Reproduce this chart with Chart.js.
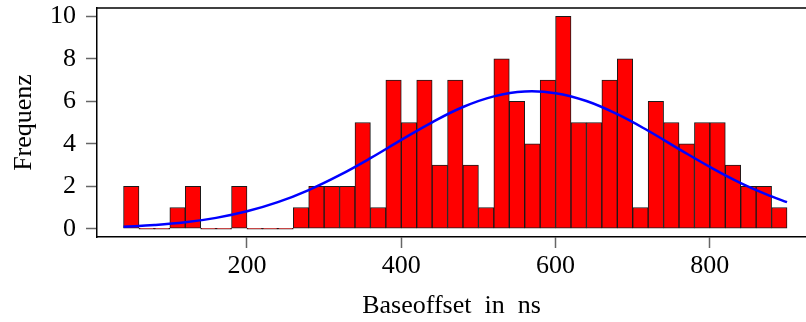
<!DOCTYPE html>
<html>
<head>
<meta charset="utf-8">
<script src="https://cdn.jsdelivr.net/npm/chart.js@4"></script>
<style>
  html, body { margin: 0; padding: 0; background: #fff; }
  #wrap { width: 806px; height: 322px; }
</style>
</head>
<body>
<div id="wrap"><canvas id="hist"></canvas></div>
<script>
// Histogramm: Klassenbreite 20 ns, ab 40 ns
const binStart = 40;
const binWidth = 20;
const counts = [2, 0, 0, 1, 2, 0, 0, 2, 0, 0, 0, 1, 2, 2, 2, 5, 1, 7, 5, 7, 3, 7,
  3, 1, 8, 6, 4, 7, 10, 5, 5, 7, 8, 1, 6, 5, 4, 5, 5, 3, 2, 2, 1];

// angepasste Normalverteilung
const curveX = [40, 80, 120, 160, 200, 240, 280, 320, 360, 400, 440, 480, 520,
  560, 600, 640, 680, 720, 760, 800, 840, 880, 900];
const curveY = [0.09, 0.17, 0.30, 0.51, 0.82, 1.25, 1.82, 2.52, 3.32, 4.18, 5.01,
  5.73, 6.23, 6.46, 6.38, 6.01, 5.39, 4.61, 3.75, 2.91, 2.15, 1.52, 1.25];

const xTicks = [200, 400, 600, 800];
const yTicks = [0, 2, 4, 6, 8, 10];

const binCenters = counts.map((_, i) => binStart + binWidth * (i + 0.5));

const font = { family: "'Liberation Serif', 'Times New Roman', serif", size: 26 };

const framePlugin = {
  id: 'frame',
  afterDraw(chart) {
    const { ctx, chartArea } = chart;
    ctx.save();
    ctx.strokeStyle = '#000';
    ctx.lineWidth = 1.5;
    ctx.beginPath();
    ctx.moveTo(chartArea.left, chartArea.top);
    ctx.lineTo(chartArea.right, chartArea.top);
    ctx.stroke();
    ctx.restore();
  }
};

const ctx = document.getElementById('hist').getContext('2d');
new Chart(ctx, {
  data: {
    datasets: [{
      type: 'line',
      data: curveX.map((x, i) => ({ x: x, y: curveY[i] })),
      borderColor: '#0000ff',
      borderWidth: 2.5,
      pointRadius: 0,
      tension: 0.4,
      fill: false,
      order: 1
    }, {
      type: 'bar',
      data: binCenters.map((x, i) => ({ x: x, y: counts[i] })),
      backgroundColor: '#ff0000',
      borderColor: '#1a1a1a',
      borderWidth: 1,
      borderSkipped: false,
      minBarLength: 1,
      barPercentage: 1,
      categoryPercentage: 1,
      order: 2
    }]
  },
  options: {
    responsive: true,
    maintainAspectRatio: false,
    animation: false,
    layout: { padding: { top: 8, right: 0, bottom: 0, left: 0 } },
    plugins: {
      legend: { display: false },
      tooltip: { enabled: false }
    },
    scales: {
      x: {
        type: 'linear',
        offset: false,
        min: 5.6,
        max: 924.6,
        afterBuildTicks: s => { s.ticks = xTicks.map(v => ({ value: v })); },
        afterFit: s => { s.height = 85; s.paddingLeft = 0; s.paddingRight = 0; },
        grid: { offset: false, drawOnChartArea: false, tickLength: 11, tickColor: '#666', tickWidth: 1.5 },
        border: { display: true, color: '#000', width: 1.5 },
        ticks: { color: '#000', font: font, padding: 3, maxRotation: 0 },
        title: {
          display: true,
          text: 'Baseoffset  in  ns',
          color: '#000',
          font: font,
          padding: { top: 0, bottom: 0 }
        }
      },
      y: {
        min: -0.39,
        max: 10.39,
        afterBuildTicks: s => { s.ticks = yTicks.map(v => ({ value: v })); },
        afterFit: s => { s.width = 97; s.paddingTop = 0; s.paddingBottom = 0; },
        grid: { drawOnChartArea: false, tickLength: 11, tickColor: '#666', tickWidth: 1.5 },
        border: { display: true, color: '#000', width: 1.5 },
        ticks: { color: '#000', font: font, padding: 10 },
        title: {
          display: true,
          text: 'Frequenz',
          color: '#000',
          font: font,
          padding: { top: 9, bottom: 0 }
        }
      }
    }
  },
  plugins: [framePlugin]
});
</script>
</body>
</html>
